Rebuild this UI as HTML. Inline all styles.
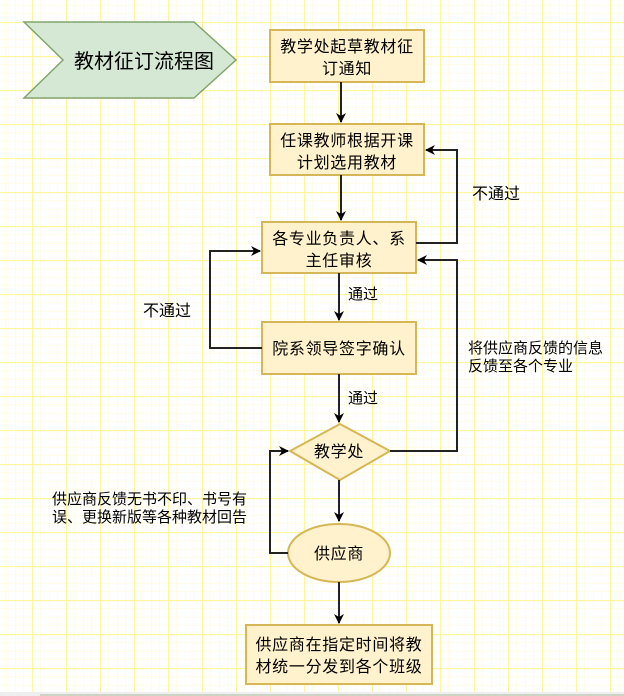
<!DOCTYPE html>
<html><head><meta charset="utf-8"><style>
html,body{margin:0;padding:0;width:624px;height:696px;overflow:hidden;background:#fff}
svg{display:block}
text{font-family:"Liberation Sans","Noto Sans CJK SC",sans-serif;fill:#000}
</style></head><body>
<svg width="624" height="696" viewBox="0 0 624 696" xmlns="http://www.w3.org/2000/svg">
<defs>
<pattern id="minor" width="8.5" height="8.5" patternUnits="userSpaceOnUse" x="-2" y="22">
<path d="M0 0H8.5M0 0V8.5" stroke="#fffbd0" stroke-width="1" fill="none"/>
</pattern>
<pattern id="major" width="34" height="34" patternUnits="userSpaceOnUse" x="-2" y="22">
<path d="M0 0.5H34M0.5 0V34" stroke="#fff59a" stroke-width="1.2" fill="none"/>
</pattern>
<marker id="ar" markerWidth="10" markerHeight="10" refX="9" refY="5" orient="auto" markerUnits="userSpaceOnUse">
<path d="M0 0L10 5L0 10L3 5Z" fill="#000"/>
</marker>
</defs>
<rect width="624" height="696" fill="url(#minor)"/>
<rect width="624" height="696" fill="url(#major)"/>
<rect x="0" y="692" width="624" height="4" fill="#eee"/>
<rect x="40" y="694" width="584" height="2" fill="#cdd3c5"/>

<polygon points="24,22 194,22 236,60 194,98 24,98 63,60" fill="#d5e8d4" stroke="#82a56f" stroke-width="1.5"/>
<text x="74" y="68" font-size="20" fill="#333">教材征订流程图</text>

<g fill="#fff2cc" stroke="#d6b656" stroke-width="2">
<rect x="270" y="30" width="154" height="52"/>
<rect x="270" y="124" width="154" height="51"/>
<rect x="262" y="222" width="154" height="51"/>
<rect x="262" y="322" width="154" height="52"/>
<polygon points="340,424 390,451 340,480 290,451"/>
<ellipse cx="339" cy="553" rx="51" ry="29"/>
<rect x="246" y="625" width="186" height="59"/>
</g>

<g font-size="16" text-anchor="middle" letter-spacing="0.7">
<text x="347" y="52">教学处起草教材征</text><text x="347" y="74">订通知</text>
<text x="347" y="146">任课教师根据开课</text><text x="347" y="168">计划选用教材</text>
<text x="339" y="244">各专业负责人、系</text><text x="339" y="266">主任审核</text>
<text x="339" y="354">院系领导签字确认</text>
<text x="339" y="457">教学处</text>
<text x="339" y="559">供应商</text>
<text x="339" y="650">供应商在指定时间将教</text><text x="339" y="672">材统一分发到各个班级</text>
</g>

<g stroke="#222" stroke-width="2" fill="none" marker-end="url(#ar)">
<path d="M341 82V122"/>
<path d="M341 175V220"/>
<path d="M339 273V320"/>
<path d="M339 374V422"/>
<path d="M339 480V521"/>
<path d="M339 582V623"/>
<path d="M416 243H457V150H426"/>
<path d="M390 451H457V260H418"/>
<path d="M262 348H210V251H260"/>
<path d="M288 553H270V451H288"/>
</g>

<g font-size="15">
<text x="472" y="199" font-size="16">不通过</text>
<text x="348" y="299">通过</text>
<text x="143" y="316" font-size="16">不通过</text>
<text x="348" y="403">通过</text>
<text x="468" y="353">将供应商反馈的信息</text>
<text x="468" y="371">反馈至各个专业</text>
<text x="52" y="504">供应商反馈无书不印、书号有</text>
<text x="52" y="522">误、更换新版等各种教材回告</text>
</g>
</svg>
</body></html>
